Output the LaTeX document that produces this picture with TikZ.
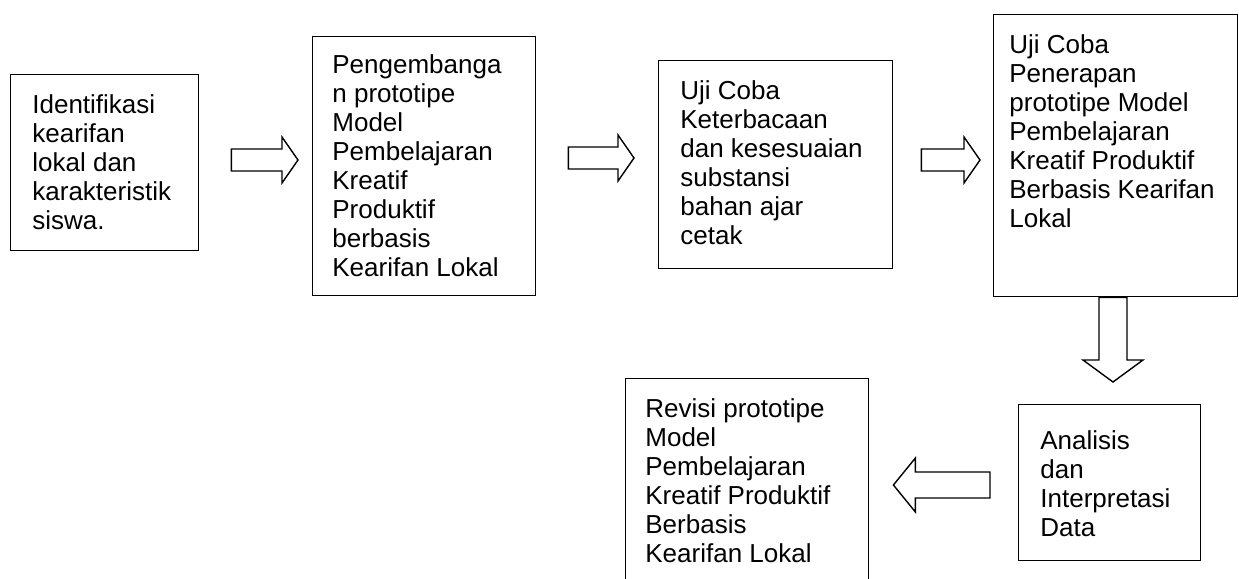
\documentclass[tikz,border=0pt]{standalone}
\usepackage{fontspec}
\setmainfont{Liberation Sans}

\tikzset{
	kotak/.style={draw, line width=0.7pt, anchor=north west, inner sep=0pt},
	isi/.style={anchor=north west, align=left, inner sep=0pt,
		font=\fontsize{13pt}{14.5pt}\selectfont},
	panah/.style={draw, line width=0.7pt, fill=white, line join=miter}
}

\begin{document}
\begin{tikzpicture}[x=0.5pt, y=-0.5pt]
	\clip (0,0) rectangle (1239,579);
	\fill[white] (0,0) rectangle (1239,579);

	% kotak-kotak
	\node[kotak, minimum width=94pt, minimum height=88pt] (b1) at (10,74) {};
	\node[kotak, minimum width=111.5pt, minimum height=129.5pt] (b2) at (312,36) {};
	\node[kotak, minimum width=117pt, minimum height=104pt] (b3) at (658,60) {};
	\node[kotak, minimum width=122pt, minimum height=141pt] (b4) at (993,14) {};
	\node[kotak, minimum width=91pt, minimum height=78pt] (b5) at (1018,404) {};
	\node[kotak, minimum width=121.5pt, minimum height=120pt] (b6) at (625,378) {};

	% teks
	\node[isi] (t1) at ([shift={(11pt,-10pt)}]b1.north west)
		{Identifikasi\\kearifan\\lokal dan\\karakteristik\\siswa.};
	\node[isi] (t2) at ([shift={(10pt,-9pt)}]b2.north west)
		{Pengembanga\\n prototipe\\Model\\Pembelajaran\\Kreatif\\Produktif\\berbasis\\Kearifan Lokal};
	\node[isi] (t3) at ([shift={(11pt,-10pt)}]b3.north west)
		{Uji Coba\\Keterbacaan\\dan kesesuaian\\substansi\\bahan ajar\\cetak};
	\node[isi] (t4) at ([shift={(8pt,-10pt)}]b4.north west)
		{Uji Coba\\Penerapan\\prototipe Model\\Pembelajaran\\Kreatif Produktif\\Berbasis Kearifan\\Lokal};
	\node[isi] (t5) at ([shift={(11pt,-13pt)}]b5.north west)
		{Analisis\\dan\\Interpretasi\\Data};
	\node[isi] (t6) at ([shift={(10pt,-10pt)}]b6.north west)
		{Revisi prototipe\\Model\\Pembelajaran\\Kreatif Produktif\\Berbasis\\Kearifan Lokal};

	% panah blok ke kanan
	\foreach \a/\b/\y/\ja/\jb in {b1/b2/160/16pt/7pt, b2/b3/158/16pt/12pt, b3/b4/160/14pt/6.5pt}{
		\coordinate (ka) at ([xshift=\ja]\a.east |- 0,\y);
		\coordinate (ki) at ([xshift=-\jb]\b.west |- 0,\y);
		\draw[panah] ([yshift=5.5pt]ka) -- ([xshift=-8pt,yshift=5.5pt]ki)
			-- ([xshift=-8pt,yshift=11.5pt]ki) -- (ki)
			-- ([xshift=-8pt,yshift=-11.5pt]ki) -- ([xshift=-8pt,yshift=-5.5pt]ki)
			-- ([yshift=-5.5pt]ka) -- cycle;
	}

	% panah blok ke bawah
	\coordinate (ba) at (b4.south -| 1113,0);
	\coordinate (bu) at ([yshift=11pt]b5.north -| 1113,0);
	\draw[panah] ([xshift=-7pt]ba) -- ([xshift=-7pt,yshift=11pt]bu)
		-- ([xshift=-15pt,yshift=11pt]bu) -- (bu)
		-- ([xshift=15pt,yshift=11pt]bu) -- ([xshift=7pt,yshift=11pt]bu)
		-- ([xshift=7pt]ba) -- cycle;

	% panah blok ke kiri
	\coordinate (ka) at ([xshift=-14pt]b5.west |- 0,485);
	\coordinate (ki) at ([xshift=12pt]b6.east |- 0,485);
	\draw[panah] ([yshift=6.5pt]ka) -- ([xshift=11pt,yshift=6.5pt]ki)
		-- ([xshift=11pt,yshift=13.5pt]ki) -- (ki)
		-- ([xshift=11pt,yshift=-13.5pt]ki) -- ([xshift=11pt,yshift=-6.5pt]ki)
		-- ([yshift=-6.5pt]ka) -- cycle;
\end{tikzpicture}
\end{document}
